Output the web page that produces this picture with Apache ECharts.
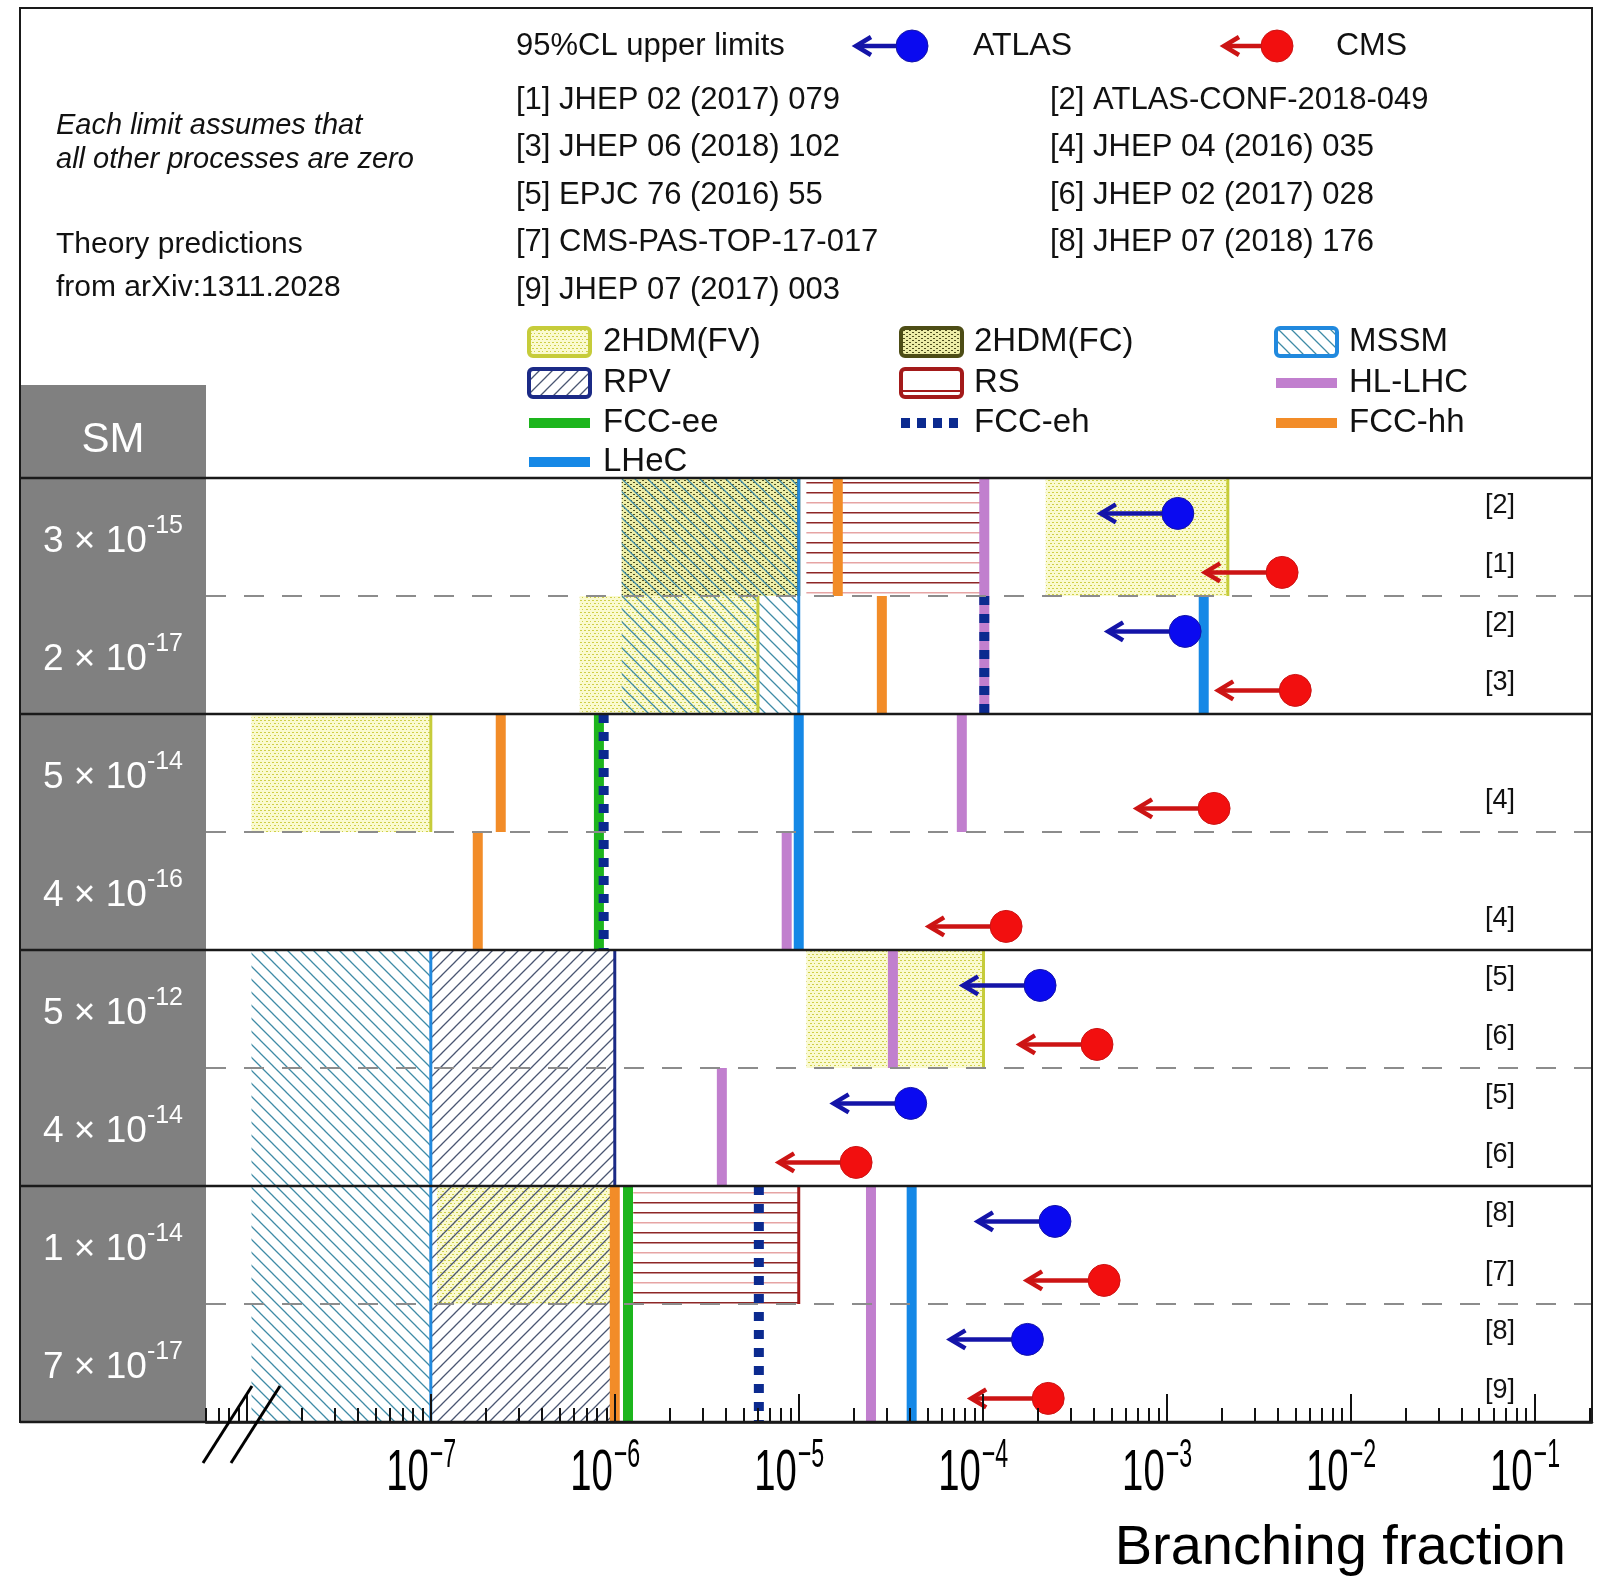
<!DOCTYPE html>
<html>
<head>
<meta charset="utf-8">
<script src="https://cdn.jsdelivr.net/npm/echarts@6/dist/echarts.min.js"></script>
<style>
html, body { margin: 0; padding: 0; background: #fff; }
#chart { width: 1602px; height: 1580px; }
</style>
</head>
<body>
<div id="chart"></div>
<script>
// SM prediction for each row (top row first): mantissa x 10^exponent
const smMantissa = [3, 2, 5, 4, 5, 4, 1, 7];
const smExponent = [-15, -17, -14, -16, -12, -14, -14, -17];

// theory predictions, [low, high, row]
const fvRanges = [[2.2e-4, 2.15e-3, 0], [6.45e-7, 6.0e-6, 1], [1.06e-8, 1.0e-7, 2], [1.1e-5, 1.01e-4, 4], [1.08e-7, 9.8e-7, 6]];
const fcRanges = [[1.09e-6, 1.0e-5, 0]];
const mssmRanges = [[1.09e-6, 1.0e-5, 0], [1.09e-6, 1.0e-5, 1], [1.06e-8, 1.0e-7, 4], [1.06e-8, 1.0e-7, 5], [1.06e-8, 1.0e-7, 6], [1.06e-8, 1.0e-7, 7]];
const rpvRanges = [[1.0e-7, 1.0e-6, 4], [1.0e-7, 1.0e-6, 5], [1.0e-7, 9.8e-7, 6], [1.0e-7, 9.8e-7, 7]];
const rsRanges = [[1.1e-5, 1.0e-4, 0], [1.26e-6, 1.0e-5, 6]];

// future sensitivities, [value, first row, end row]
const hllhc = [[1.02e-4, 0, 2], [7.7e-5, 2, 3], [8.6e-6, 3, 4], [3.25e-5, 4, 5], [3.82e-6, 5, 6], [2.47e-5, 6, 8]];
const fccee = [[8.2e-7, 2, 4], [1.18e-6, 6, 8]];
const fcceh = [[1.02e-4, 1, 2], [8.7e-7, 2, 4], [6.07e-6, 6, 8]];
const fcchh = [[1.63e-5, 0, 1], [2.83e-5, 1, 2], [2.4e-7, 2, 3], [1.8e-7, 3, 4], [1.0e-6, 6, 8]];
const lhec = [[1.59e-3, 1, 2], [1.0e-5, 2, 4], [4.11e-5, 6, 8]];

// 95% CL upper limits, [value, row]
const atlasLimits = [[1.15e-3, 0], [1.26e-3, 1], [2.05e-4, 4], [4.06e-5, 5], [2.47e-4, 6], [1.75e-4, 7]];
const cmsLimits = [[4.24e-3, 0], [5.0e-3, 1], [1.81e-3, 2], [1.34e-4, 3], [4.18e-4, 4], [2.05e-5, 5], [4.57e-4, 6], [2.27e-4, 7]];
const atlasRefs = ['[2]', '[2]', '', '', '[5]', '[5]', '[8]', '[8]'];
const cmsRefs = ['[1]', '[3]', '[4]', '[4]', '[6]', '[6]', '[7]', '[9]'];

const refsLeft = ['[1] JHEP 02 (2017) 079', '[3] JHEP 06 (2018) 102', '[5] EPJC 76 (2016) 55', '[7] CMS-PAS-TOP-17-017', '[9] JHEP 07 (2017) 003'];
const refsRight = ['[2] ATLAS-CONF-2018-049', '[4] JHEP 04 (2016) 035', '[6] JHEP 02 (2017) 028', '[8] JHEP 07 (2018) 176'];

const axisExponents = [-7, -6, -5, -4, -3, -2, -1];

const FONT = "'Liberation Sans', Arial, Helvetica, sans-serif";
const XMIN = -8.222, XMAX = -0.688;
const lg = Math.log10;

const majorTicks = [-8, -7, -6, -5, -4, -3, -2, -1];
const minorTicks = [];
for (let n = -9; n <= -1; n++) {
  for (let k = 2; k <= 9; k++) {
    const v = lg(k) + n;
    if (v >= XMIN && v <= XMAX) minorTicks.push(v);
  }
}

// fill patterns
function pattern(w, h, draw) {
  const c = document.createElement('canvas');
  c.width = w; c.height = h;
  draw(c.getContext('2d'));
  return { image: c, repeat: 'repeat' };
}
const fvFill = pattern(8, 6, g => {
  g.fillStyle = '#fafad0'; g.fillRect(0, 0, 8, 6);
  g.fillStyle = '#cfcf48';
  g.fillRect(0, 0, 2, 1); g.fillRect(4, 0, 2, 1);
  g.fillRect(2, 3, 2, 1); g.fillRect(6, 3, 1, 1);
});
const fcFill = pattern(6, 4, g => {
  g.fillStyle = '#eeeea8'; g.fillRect(0, 0, 6, 4);
  g.fillStyle = '#4e4e1e';
  g.fillRect(0, 0, 2, 1); g.fillRect(3, 2, 2, 1);
});
function hatch(color, dir) {
  const s = 13;
  return pattern(s, s, g => {
    g.strokeStyle = color; g.lineWidth = 1.3;
    g.beginPath();
    if (dir > 0) {
      g.moveTo(-1, -1); g.lineTo(s + 1, s + 1);
      g.moveTo(-1, s - 1); g.lineTo(1, s + 1);
      g.moveTo(s - 1, -1); g.lineTo(s + 1, 1);
    } else {
      g.moveTo(-1, s + 1); g.lineTo(s + 1, -1);
      g.moveTo(-1, 1); g.lineTo(1, -1);
      g.moveTo(s - 1, s + 1); g.lineTo(s + 1, s - 1);
    }
    g.stroke();
  });
}
const mssmFill = hatch('#3f8ba6', 1);
const rpvFill = hatch('#4a5672', -1);
const rsFill = pattern(4, 30, g => {
  g.fillStyle = '#8e2626'; g.fillRect(0, 2, 4, 1.5); g.fillRect(0, 12, 4, 1.5);
  g.fillStyle = '#e6a4a4'; g.fillRect(0, 22, 4, 1.5);
});

const C = {
  fv: '#c6cc3a', fc: '#4d4d16', mssm: '#2189de', rpv: '#1b2a86', rs: '#a31a1a',
  hllhc: '#c17fce', fccee: '#1db51d', fcceh: '#0b2a8f', fcchh: '#f28c28', lhec: '#1588e6',
  atlasArrow: '#1414a8', atlasDot: '#0a0af0', cmsArrow: '#cc1414', cmsDot: '#f20f0f'
};

function boxSeries(ranges, fill, z) {
  return {
    type: 'custom', z: z, silent: true, clip: false,
    data: ranges.map(r => [lg(r[0]), r[2], lg(r[1])]),
    renderItem: (params, api) => {
      const a = api.coord([api.value(0), api.value(1)]);
      const b = api.coord([api.value(2), api.value(1) + 1]);
      return { type: 'rect', shape: { x: a[0], y: a[1], width: b[0] - a[0], height: b[1] - a[1] }, style: { fill: fill } };
    }
  };
}
function edgeSeries(ranges, color) {
  return {
    type: 'custom', z: 4, silent: true, clip: false,
    data: ranges.map(r => [lg(r[1]), r[2]]),
    renderItem: (params, api) => {
      const a = api.coord([api.value(0), api.value(1)]);
      const b = api.coord([api.value(0), api.value(1) + 1]);
      return { type: 'line', shape: { x1: a[0], y1: a[1], x2: b[0], y2: b[1] }, style: { stroke: color, lineWidth: 3 } };
    }
  };
}
function vlineSeries(list, color, dash) {
  return {
    type: 'custom', z: 5, silent: true, clip: false,
    data: list.map(r => [lg(r[0]), r[1], r[2]]),
    renderItem: (params, api) => {
      const a = api.coord([api.value(0), api.value(1)]);
      const b = api.coord([api.value(0), api.value(2)]);
      return { type: 'line', shape: { x1: a[0], y1: a[1], x2: b[0], y2: b[1] }, style: { stroke: color, lineWidth: 10, lineDash: dash || null, lineCap: 'butt' } };
    }
  };
}
function arrowMarker(x, y, len, arrowColor, dotColor) {
  const tip = x - len;
  return [
    { type: 'line', shape: { x1: tip + 2, y1: y, x2: x, y2: y }, style: { stroke: arrowColor, lineWidth: 4.5 } },
    { type: 'polyline', shape: { points: [[tip + 15, y - 9], [tip, y], [tip + 15, y + 9]] }, style: { stroke: arrowColor, lineWidth: 4.5, fill: null } },
    { type: 'circle', shape: { cx: x, cy: y, r: 16 }, style: { fill: dotColor, stroke: arrowColor, lineWidth: 1 } }
  ];
}
function limitSeries(list, frac, arrowColor, dotColor) {
  return {
    type: 'custom', z: 7, silent: true, clip: false,
    data: list.map(r => [lg(r[0]), r[1] + frac]),
    renderItem: (params, api) => {
      const p = api.coord([api.value(0), api.value(1)]);
      return { type: 'group', children: arrowMarker(p[0], p[1], 77, arrowColor, dotColor) };
    }
  };
}
function refSeries(refs, frac) {
  return {
    type: 'custom', z: 7, silent: true, clip: false,
    data: refs.map((t, i) => [XMAX, i + frac]),
    renderItem: (params, api) => {
      const t = refs[params.dataIndex];
      if (!t) return null;
      const p = api.coord([api.value(0), api.value(1)]);
      return { type: 'text', x: p[0] - 92, y: p[1] - 8, style: { text: t, fontSize: 27, fontFamily: FONT, fill: '#111', align: 'center', verticalAlign: 'middle', textAlign: 'center', textVerticalAlign: 'middle' } };
    }
  };
}

const separatorSeries = {
  type: 'custom', z: 6, silent: true, clip: false,
  data: [0, 1, 2, 3, 4, 5, 6, 7, 8].map(v => [XMIN, v]),
  renderItem: (params, api) => {
    const v = api.value(1);
    const y = api.coord([XMIN, v])[1];
    const cs = params.coordSys;
    if (v % 2 === 0) {
      return { type: 'line', shape: { x1: 20, y1: y, x2: cs.x + cs.width, y2: y }, style: { stroke: '#1a1a1a', lineWidth: 2.5 } };
    }
    return { type: 'line', shape: { x1: cs.x, y1: y, x2: cs.x + cs.width, y2: y }, style: { stroke: '#8c8c8c', lineWidth: 2.2, lineDash: [20, 18] } };
  }
};

const axisLabelSeries = {
  type: 'custom', z: 8, silent: true, clip: false,
  data: axisExponents.map(e => [e, 8]),
  renderItem: (params, api) => {
    const e = api.value(0);
    const p = api.coord([e, 8]);
    return {
      type: 'group', children: [
        { type: 'text', x: p[0] - 2, y: p[1] + 52, scaleX: 0.66, style: { text: '10', fontSize: 58, fontFamily: FONT, fill: '#000', align: 'right', verticalAlign: 'middle', textAlign: 'right', textVerticalAlign: 'middle' } },
        { type: 'text', x: p[0] - 1, y: p[1] + 34, scaleX: 0.58, style: { text: '\u2212' + (-e), fontSize: 40, fontFamily: FONT, fill: '#000', align: 'left', verticalAlign: 'middle', textAlign: 'left', textVerticalAlign: 'middle' } }
      ]
    };
  }
};

// legend and notes
function txt(x, y, text, size, extra) {
  return { type: 'text', x: x, y: y, z: 20, style: Object.assign({ text: text, fontSize: size, fontFamily: FONT, fill: '#111', align: 'left', verticalAlign: 'middle', textAlign: 'left', textVerticalAlign: 'middle' }, extra || {}) };
}
function boxSwatch(x, y, fill, stroke) {
  return { type: 'rect', z: 20, shape: { x: x, y: y - 14, width: 61, height: 28, r: 4 }, style: { fill: fill, stroke: stroke, lineWidth: 4 } };
}
function lineSwatch(x, y, color, dash) {
  return { type: 'line', z: 20, shape: { x1: x, y1: y, x2: x + 61, y2: y }, style: { stroke: color, lineWidth: 10, lineDash: dash || null } };
}

const graphic = [
  { type: 'rect', z: -1, shape: { x: 20, y: 385, width: 186, height: 1037 }, style: { fill: '#808080' } },
  txt(113, 440, 'SM', 42, { fill: '#fff', align: 'center', textAlign: 'center' }),
  { type: 'rect', z: 100, shape: { x: 20, y: 8, width: 1572, height: 1414 }, style: { fill: null, stroke: '#1a1a1a', lineWidth: 2 } },
  // axis break
  { type: 'line', z: 100, shape: { x1: 203, y1: 1463, x2: 252, y2: 1386 }, style: { stroke: '#000', lineWidth: 3 } },
  { type: 'line', z: 100, shape: { x1: 231, y1: 1463, x2: 280, y2: 1386 }, style: { stroke: '#000', lineWidth: 3 } },
  txt(1566, 1549, 'Branching fraction', 56, { fill: '#000', align: 'right', textAlign: 'right' }),
  txt(56, 126, 'Each limit assumes that', 29, { fontStyle: 'italic' }),
  txt(56, 160, 'all other processes are zero', 29, { fontStyle: 'italic' }),
  txt(56, 245, 'Theory predictions', 30),
  txt(56, 288, 'from arXiv:1311.2028', 30),
  txt(516, 46, '95%CL upper limits', 31),
  { type: 'group', children: arrowMarker(912, 46, 56, C.atlasArrow, C.atlasDot) },
  txt(973, 46, 'ATLAS', 32),
  { type: 'group', children: arrowMarker(1277, 46, 53, C.cmsArrow, C.cmsDot) },
  txt(1336, 46, 'CMS', 32),
  boxSwatch(529, 342, fvFill, C.fv), txt(603, 342, '2HDM(FV)', 33),
  boxSwatch(901, 342, fcFill, C.fc), txt(974, 342, '2HDM(FC)', 33),
  boxSwatch(1276, 342, mssmFill, C.mssm), txt(1349, 342, 'MSSM', 33),
  boxSwatch(529, 383, rpvFill, C.rpv), txt(603, 383, 'RPV', 33),
  boxSwatch(901, 383, '#fff', C.rs),
  { type: 'line', z: 21, shape: { x1: 903, y1: 391, x2: 960, y2: 391 }, style: { stroke: C.rs, lineWidth: 2 } },
  txt(974, 383, 'RS', 33),
  lineSwatch(1276, 383, C.hllhc), txt(1349, 383, 'HL-LHC', 33),
  lineSwatch(529, 423, C.fccee), txt(603, 423, 'FCC-ee', 33),
  lineSwatch(901, 423, C.fcceh, [9, 7]), txt(974, 423, 'FCC-eh', 33),
  lineSwatch(1276, 423, C.fcchh), txt(1349, 423, 'FCC-hh', 33),
  lineSwatch(529, 462, C.lhec), txt(603, 462, 'LHeC', 33)
];
refsLeft.forEach((t, i) => graphic.push(txt(516, 100 + i * 47.5, t, 31)));
refsRight.forEach((t, i) => graphic.push(txt(1050, 100 + i * 47.5, t, 31)));

const chart = echarts.init(document.getElementById('chart'));
chart.setOption({
  animation: false,
  backgroundColor: '#fff',
  grid: { left: 206, right: 10, top: 478, bottom: 158, containLabel: false, outerBoundsMode: 'none' },
  xAxis: [
    {
      type: 'value', min: XMIN, max: XMAX, z: 10, position: 'bottom',
      axisLine: { onZero: false, lineStyle: { color: '#111', width: 2.5 } },
      axisTick: { inside: true, length: 28, customValues: majorTicks, lineStyle: { color: '#111', width: 2 } },
      axisLabel: { show: false }, splitLine: { show: false }
    },
    {
      type: 'value', min: XMIN, max: XMAX, z: 10, position: 'bottom',
      axisLine: { show: false, onZero: false },
      axisTick: { inside: true, length: 14, customValues: minorTicks, lineStyle: { color: '#111', width: 2 } },
      axisLabel: { show: false }, splitLine: { show: false }
    }
  ],
  yAxis: [
    { type: 'value', min: 0, max: 8, inverse: true, show: false, position: 'left' },
    {
      type: 'category', inverse: true, z: 5, position: 'left', offset: 0,
      data: smMantissa.map((m, i) => m + 'e' + smExponent[i]),
      axisLine: { show: false, onZero: false }, axisTick: { show: false }, splitLine: { show: false },
      axisLabel: {
        margin: 93, align: 'center',
        formatter: (v, i) => '{m|' + smMantissa[i] + ' \u00d7 10}{e|' + smExponent[i] + '}',
        rich: {
          m: { fontSize: 37, fontFamily: FONT, color: '#fff', lineHeight: 46, verticalAlign: 'bottom' },
          e: { fontSize: 25, fontFamily: FONT, color: '#fff', lineHeight: 28, verticalAlign: 'top' }
        }
      }
    }
  ],
  graphic: graphic,
  series: [
    boxSeries(fvRanges, fvFill, 2),
    boxSeries(fcRanges, fcFill, 2),
    boxSeries(mssmRanges, mssmFill, 3),
    boxSeries(rpvRanges, rpvFill, 3),
    boxSeries(rsRanges, rsFill, 3),
    edgeSeries(fvRanges, C.fv),
    edgeSeries(fcRanges, C.fc),
    edgeSeries(rsRanges, C.rs),
    edgeSeries(rpvRanges.slice(0, 2), C.rpv),
    edgeSeries(mssmRanges, C.mssm),
    vlineSeries(fcchh, C.fcchh),
    vlineSeries(hllhc, C.hllhc),
    vlineSeries(fccee, C.fccee),
    vlineSeries(lhec, C.lhec),
    vlineSeries(fcceh, C.fcceh, [9, 9]),
    separatorSeries,
    limitSeries(atlasLimits, 0.3, C.atlasArrow, C.atlasDot),
    limitSeries(cmsLimits, 0.8, C.cmsArrow, C.cmsDot),
    refSeries(atlasRefs, 0.3),
    refSeries(cmsRefs, 0.8),
    axisLabelSeries
  ]
});
</script>
</body>
</html>
